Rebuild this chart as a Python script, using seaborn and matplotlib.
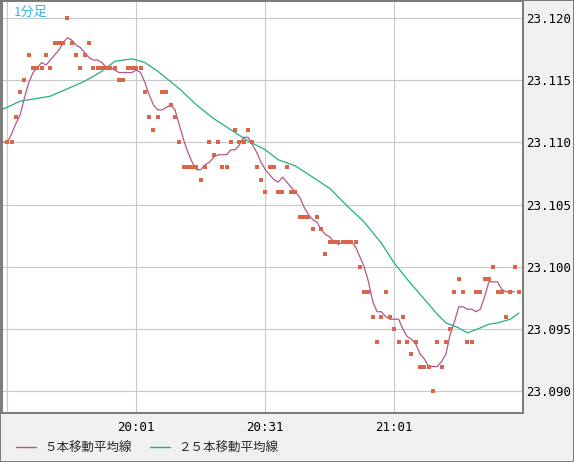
import numpy as np
import pandas as pd
import seaborn as sns
import matplotlib.pyplot as plt
from matplotlib.patches import Rectangle

# 1-minute closes, 19:31 .. 21:30
price = [
    23.110, 23.110, 23.112, 23.114, 23.115, 23.117, 23.116, 23.116, 23.116, 23.117,
    23.116, 23.118, 23.118, 23.118, 23.120, 23.118, 23.117, 23.116, 23.117, 23.118,
    23.116, 23.116, 23.116, 23.116, 23.116, 23.116, 23.115, 23.115, 23.116, 23.116,
    23.116, 23.116, 23.114, 23.112, 23.111, 23.112, 23.114, 23.114, 23.113, 23.112,
    23.110, 23.108, 23.108, 23.108, 23.108, 23.107, 23.108, 23.110, 23.109, 23.110,
    23.108, 23.108, 23.110, 23.111, 23.110, 23.110, 23.111, 23.110, 23.108, 23.107,
    23.106, 23.108, 23.108, 23.106, 23.106, 23.108, 23.106, 23.106, 23.104, 23.104,
    23.104, 23.103, 23.104, 23.103, 23.101, 23.102, 23.102, 23.102, 23.102, 23.102,
    23.102, 23.102, 23.100, 23.098, 23.098, 23.096, 23.094, 23.096, 23.098, 23.096,
    23.095, 23.094, 23.096, 23.094, 23.093, 23.094, 23.092, 23.092, 23.092, 23.090,
    23.094, 23.092, 23.094, 23.095, 23.098, 23.099, 23.098, 23.094, 23.094, 23.098,
    23.098, 23.099, 23.099, 23.100, 23.098, 23.098, 23.096, 23.098, 23.100, 23.098,
]

# 25-period average
ma25_minute = [-2, 3, 10, 14, 18, 22, 25, 29, 32, 35, 40, 44, 48, 52, 56, 60, 63, 67,
               71, 75, 79, 83, 87, 90, 93, 97, 100, 102, 105, 107, 110, 112, 114, 117, 119]
ma25_value = [23.1125, 23.1133, 23.1137, 23.1143, 23.1149, 23.1157, 23.1165, 23.1167,
              23.1164, 23.1157, 23.1143, 23.1130, 23.1119, 23.1110, 23.1101, 23.1094,
              23.1086, 23.1081, 23.1072, 23.1063, 23.1049, 23.1036, 23.1019, 23.1003,
              23.0990, 23.0974, 23.0962, 23.0955, 23.0951, 23.0947, 23.0951, 23.0954,
              23.0955, 23.0958, 23.0963]

tick_minute = [0, 30, 60, 90]
tick_label = ["", "20:01", "20:31", "21:01"]
price_ticks = [23.090, 23.095, 23.100, 23.105, 23.110, 23.115, 23.120]
legend_labels = ["５本移動平均線", "２５本移動平均線"]

c_point = "#d9654b"
c_ma5 = "#b5568a"
c_ma25 = "#22b07e"

df = pd.DataFrame({"minute": np.arange(len(price)), "price": price})
df["ma5"] = df["price"].rolling(5, min_periods=1).mean()
df["ma5_x"] = df["minute"] - 1
ma25 = pd.DataFrame({"minute": ma25_minute, "value": ma25_value})

sns.set_style("white")
plt.rcParams["font.family"] = ["DejaVu Sans Mono", "Noto Sans CJK JP"]

fig = plt.figure(figsize=(5.74, 4.62), dpi=100, facecolor="#f0f0f0")
ax = fig.add_axes([2 / 574, 49 / 462, 521 / 574, 412 / 462])
ax.set_facecolor("white")

for v in price_ticks:
    ax.axhline(v, color="#c8c8c8", lw=0.8, zorder=0)
for m in tick_minute:
    ax.axvline(m, color="#c8c8c8", lw=0.8, zorder=0)

sns.lineplot(data=ma25, x="minute", y="value", color=c_ma25, lw=0.9, ax=ax, zorder=2)
sns.lineplot(data=df, x="ma5_x", y="ma5", color=c_ma5, lw=0.9, ax=ax, zorder=3)
sns.scatterplot(data=df, x="minute", y="price", color=c_point, marker="s", s=6,
                linewidth=0, ax=ax, zorder=4)

ax.set_xlim(-1.23, 119.93)
ax.set_ylim(23.08827, 23.12134)
ax.set_xticks(tick_minute)
ax.set_xticklabels(tick_label)
ax.set_yticks(price_ticks)
ax.set_yticklabels([f"{v:.3f}" for v in price_ticks])
ax.yaxis.tick_right()
ax.tick_params(axis="y", length=0, pad=2, labelsize=9, colors="black")
ax.tick_params(axis="x", length=0, pad=6, labelsize=9, colors="black")
ax.set_xlabel("")
ax.set_ylabel("")
for s in ax.spines.values():
    s.set_color("#7a7a7a")
    s.set_linewidth(1.4)

ax.text(0.023, 0.988, "1分足", transform=ax.transAxes, ha="left", va="top",
        color="#3cb4e6", fontsize=9.5, family=["Noto Sans CJK JP", "DejaVu Sans"])

h_ma5 = plt.Line2D([], [], color=c_ma5, lw=1.0)
h_ma25 = plt.Line2D([], [], color=c_ma25, lw=1.0)
fig.legend([h_ma5, h_ma25], legend_labels, loc="center left",
           bbox_to_anchor=(16 / 574, 1 - 448 / 462), ncol=2, frameon=False,
           borderpad=0, borderaxespad=0, handlelength=1.6, handletextpad=0.7,
           columnspacing=1.4, prop={"family": ["Noto Sans CJK JP", "DejaVu Sans"], "size": 9})

fig.add_artist(Rectangle((0, 0), 1, 1, transform=fig.transFigure, fill=False,
                         edgecolor="#7a7a7a", lw=1.4))

fig.savefig("out.png", dpi=100, facecolor=fig.get_facecolor())
